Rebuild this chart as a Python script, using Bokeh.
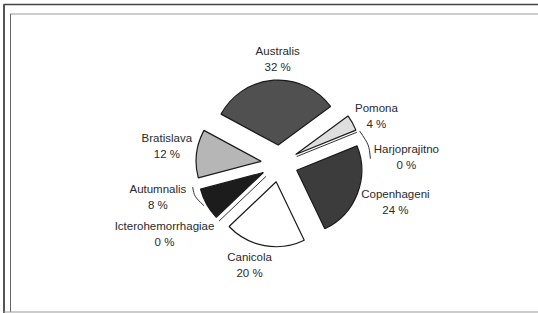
import math
from bokeh.plotting import figure
from bokeh.models import ColumnDataSource, Range1d
from bokeh.core.properties import value
from bokeh.embed import file_html
from bokeh.resources import INLINE

# ---- data ----
names = ["Australis", "Pomona", "Harjoprajitno", "Copenhageni",
         "Canicola", "Icterohemorrhagiae", "Autumnalis", "Bratislava"]
percents = [32, 4, 0, 24, 20, 0, 8, 12]

# ---- styles / layout ----
fills = ["#505050", "#dedede", None, "#3c3c3c", "#ffffff", None, "#1c1c1c", "#b6b6b6"]
label_nudge = [-3, -3, -19, 3, -6, -12, -14, -2]      # degrees from slice bisector
label_dist = [105, 108, 127, 122, 106, 135, 126, 114]  # px from pie centre
leader = [False, False, True, False, False, False, True, False]

W, H = 538, 313
CX, CY = 279, 150          # pie centre (px, y up)
R = 65                     # radius
EXPLODE = 18.5             # explode distance
START = 151.6              # angle where the first slice starts (deg), clockwise

FONT = value("Liberation Sans")
TXT = "#2a2a2a"

p = figure(width=W, height=H, output_backend="svg", toolbar_location=None,
           x_range=Range1d(0, W), y_range=Range1d(0, H),
           x_axis_location=None, y_axis_location=None,
           min_border=0, outline_line_color=None)
p.grid.visible = False
p.background_fill_color = "white"

# frame lines
p.line([3, W], [309, 309], line_color="#444444", line_width=1.5)
p.line([3.5, 3.5], [0, 309], line_color="#555555", line_width=2)
p.line([10, W], [299.5, 299.5], line_color="#777777", line_width=1.5, line_dash="1 1")
p.line([10, 10], [1.5, 299.5], line_color="#666666", line_width=1)
p.line([3, W], [1.5, 1.5], line_color="#999999", line_width=1)

# slices
wx, wy, ws, we, wc = [], [], [], [], []
zx0, zy0, zx1, zy1 = [], [], [], []
lab_x, lab_y = [], []
cum = 0.0
for i, v in enumerate(percents):
    a1 = START - cum * 3.6
    a2 = a1 - v * 3.6
    cum += v
    mid = (a1 + a2) / 2.0
    ux, uy = math.cos(math.radians(mid)), math.sin(math.radians(mid))
    if v > 0:
        wx.append(CX + EXPLODE * ux)
        wy.append(CY + EXPLODE * uy)
        ws.append(math.radians(a2))
        we.append(math.radians(a1))
        wc.append(fills[i])
    else:
        zx0.append(CX + EXPLODE * ux)
        zy0.append(CY + EXPLODE * uy)
        zx1.append(CX + (EXPLODE + R) * ux)
        zy1.append(CY + (EXPLODE + R) * uy)
    la = mid + label_nudge[i]
    lx = CX + label_dist[i] * math.cos(math.radians(la))
    ly = CY + label_dist[i] * math.sin(math.radians(la))
    lab_x.append(lx)
    lab_y.append(ly)
    if leader[i]:
        sx = CX + (EXPLODE + R + 3) * ux
        sy = CY + (EXPLODE + R + 3) * uy
        ex = CX + (label_dist[i] - 36) * math.cos(math.radians(la))
        ey = CY + (label_dist[i] - 36) * math.sin(math.radians(la))
        mx = (sx + ex) / 2 + 4 * (1 if ex > CX else -1)
        my = (sy + ey) / 2
        p.bezier(x0=[sx], y0=[sy], x1=[ex], y1=[ey], cx0=[mx], cy0=[my],
                 cx1=[mx], cy1=[my], line_color="#333333", line_width=1)

src = ColumnDataSource(dict(x=wx, y=wy, s=ws, e=we, c=wc))
p.wedge(x="x", y="y", radius=R, start_angle="s", end_angle="e",
        fill_color="c", line_color="#1a1a1a", line_width=1.2, source=src)
p.segment(x0=zx0, y0=zy0, x1=zx1, y1=zy1, line_color="#333333", line_width=1)

lsrc = ColumnDataSource(dict(
    x=lab_x, yn=[y + 8 for y in lab_y], yp=[y - 8 for y in lab_y],
    name=names, pct=[f"{v} %" for v in percents]))
p.text(x="x", y="yn", text="name", source=lsrc, text_font=FONT,
       text_font_size="11.5px", text_color=TXT, text_align="center",
       text_baseline="middle")
p.text(x="x", y="yp", text="pct", source=lsrc, text_font=FONT,
       text_font_size="11.5px", text_color=TXT, text_align="center",
       text_baseline="middle")

open("out.html", "w").write(file_html(p, INLINE))
